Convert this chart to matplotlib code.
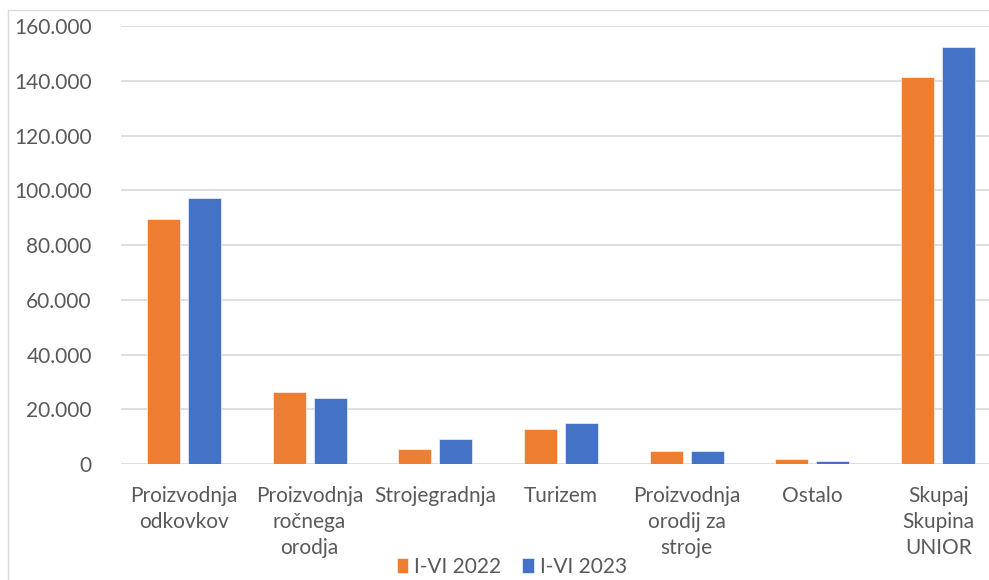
import numpy as np
import matplotlib
matplotlib.use('Agg')
import matplotlib.pyplot as plt
from matplotlib.patches import Rectangle
from matplotlib.ticker import FuncFormatter

categories = ['Proizvodnja\nodkovkov', 'Proizvodnja\nročnega\norodja', 'Strojegradnja',
              'Turizem', 'Proizvodnja\norodij za\nstroje', 'Ostalo', 'Skupaj\nSkupina\nUNIOR']
v2022 = [89400, 26500, 5550, 12850, 4800, 1900, 141400]
v2023 = [97300, 24300, 9200, 14950, 4800, 1150, 152300]
series = ['I-VI 2022', 'I-VI 2023']
yticks = [0, 20000, 40000, 60000, 80000, 100000, 120000, 140000, 160000]

plt.rcParams['font.family'] = ['Lato', 'DejaVu Sans']
txt = '#595959'
fs = 15

W, H = 989, 580
fig = plt.figure(figsize=(W / 100, H / 100), dpi=100)
# outer chart border
fig.patches.append(Rectangle((8 / W, -0.1), 1.2, 1 - 10 / H + 0.1, transform=fig.transFigure,
                             fill=False, edgecolor='#d9d9d9', linewidth=1))

ax = fig.add_axes([121 / W, (H - 464.2) / H, 880 / W, (464.2 - 26) / H])
x = np.arange(len(categories))
w = 0.263
off = 0.163
b1 = ax.bar(x - off, v2022, w, color='#ED7D31', edgecolor='white', linewidth=0.4, zorder=3)
b2 = ax.bar(x + off, v2023, w, color='#4472C4', edgecolor='white', linewidth=0.4, zorder=3)

ax.set_xlim(-0.5, len(categories) - 0.5)
ax.set_ylim(0, 160000)
ax.set_yticks(yticks)
ax.yaxis.set_major_formatter(FuncFormatter(lambda v, p: '{:,.0f}'.format(v).replace(',', '.')))
ax.grid(axis='y', color='#d9d9d9', linewidth=1.2, zorder=0)
ax.set_axisbelow(True)
for s in ax.spines.values():
    s.set_visible(False)

ax.set_xticks(x)
ax.set_xticklabels(categories, linespacing=1.35, va='top')
ax.tick_params(axis='both', length=0, labelsize=fs, labelcolor=txt)
ax.tick_params(axis='x', pad=16)
ax.tick_params(axis='y', pad=21)

fig.legend([b1, b2], series, loc='center', bbox_to_anchor=(512 / W, 1 - 567 / H), ncol=2,
           frameon=False, fontsize=fs, labelcolor=txt, handlelength=0.55, handleheight=0.7,
           handletextpad=0.3, columnspacing=1.0)

plt.savefig('out.png', dpi=100)
